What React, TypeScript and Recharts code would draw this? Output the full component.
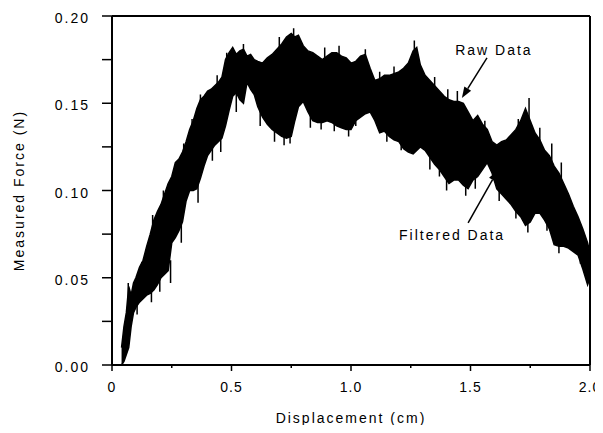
import {
  ComposedChart,
  Area,
  Line,
  XAxis,
  YAxis,
  ReferenceLine,
  ReferenceDot,
  Label,
} from "recharts";

// displacement (cm) with the lower / upper edge of the raw force trace (N)
const displacement = [
  0.04, 0.05, 0.06, 0.07, 0.08, 0.09, 0.1, 0.115, 0.13, 0.145, 0.16, 0.175, 0.19, 0.205, 0.22,
  0.235, 0.25, 0.265, 0.28, 0.295, 0.31, 0.325, 0.34, 0.355, 0.37, 0.385, 0.4, 0.415, 0.43,
  0.445, 0.46, 0.475, 0.49, 0.505, 0.52, 0.535, 0.55, 0.565, 0.58, 0.595, 0.61, 0.63, 0.65,
  0.67, 0.69, 0.71, 0.73, 0.75, 0.765, 0.78, 0.8, 0.82, 0.84, 0.86, 0.88, 0.9, 0.92, 0.94,
  0.96, 0.98, 1.0, 1.02, 1.04, 1.06, 1.08, 1.1, 1.12, 1.14, 1.16, 1.18, 1.2, 1.22, 1.24, 1.26,
  1.275, 1.29, 1.31, 1.33, 1.35, 1.37, 1.39, 1.41, 1.43, 1.45, 1.47, 1.49, 1.51, 1.53, 1.55,
  1.57, 1.59, 1.61, 1.63, 1.65, 1.67, 1.69, 1.71, 1.73, 1.75, 1.77, 1.79, 1.81, 1.83, 1.85,
  1.87, 1.89, 1.91, 1.93, 1.95, 1.97, 1.99, 2.0,
];
const forceLow = [
  0.0, 0.002, 0.006, 0.01, 0.022, 0.03, 0.033, 0.036, 0.038, 0.04, 0.041, 0.043, 0.046, 0.05,
  0.052, 0.054, 0.07, 0.073, 0.077, 0.082, 0.094, 0.1, 0.1, 0.101, 0.107, 0.114, 0.12, 0.123,
  0.126, 0.128, 0.13, 0.137, 0.146, 0.154, 0.156, 0.152, 0.15, 0.162, 0.158, 0.155, 0.148,
  0.142, 0.138, 0.135, 0.133, 0.131, 0.13, 0.131, 0.14, 0.148, 0.151, 0.145, 0.14, 0.139,
  0.139, 0.14, 0.139, 0.137, 0.136, 0.135, 0.135, 0.14, 0.142, 0.144, 0.145, 0.14, 0.133,
  0.134, 0.131, 0.129, 0.128, 0.124, 0.122, 0.121, 0.123, 0.125, 0.123, 0.119, 0.115, 0.112,
  0.108, 0.104, 0.106, 0.106, 0.103, 0.101, 0.106, 0.108, 0.112, 0.116, 0.11, 0.101, 0.098,
  0.095, 0.092, 0.088, 0.085, 0.08, 0.082, 0.087, 0.087, 0.083, 0.078, 0.069, 0.068, 0.068,
  0.067, 0.065, 0.063, 0.055, 0.046, 0.05,
];
const forceHigh = [
  0.01, 0.022, 0.03, 0.045, 0.04, 0.047, 0.05, 0.056, 0.06, 0.068, 0.075, 0.083, 0.088, 0.092,
  0.098, 0.104, 0.108, 0.116, 0.118, 0.122, 0.128, 0.135, 0.14, 0.147, 0.152, 0.154, 0.157,
  0.158, 0.16, 0.162, 0.165, 0.175, 0.179, 0.182, 0.178, 0.18, 0.181, 0.177, 0.178, 0.175,
  0.174, 0.173, 0.176, 0.178, 0.181, 0.184, 0.188, 0.19, 0.188, 0.189, 0.183, 0.18, 0.179,
  0.177, 0.175, 0.177, 0.179, 0.179, 0.177, 0.176, 0.173, 0.174, 0.177, 0.178, 0.17, 0.163,
  0.164, 0.166, 0.166, 0.167, 0.168, 0.17, 0.173, 0.18, 0.182, 0.172, 0.166, 0.163, 0.16,
  0.157, 0.154, 0.152, 0.151, 0.151, 0.15, 0.145, 0.14, 0.143, 0.138, 0.135, 0.128, 0.126,
  0.128, 0.129, 0.132, 0.135, 0.14, 0.147, 0.14, 0.133, 0.129, 0.123, 0.12, 0.114, 0.11,
  0.104, 0.098, 0.091, 0.085, 0.078, 0.07, 0.064,
];

// single noise spikes sticking out of the band: x, start inside band, tip
const spikeX = [
  0.068, 0.105, 0.125, 0.165, 0.17, 0.2, 0.215, 0.245, 0.29, 0.3, 0.335, 0.36, 0.37, 0.42, 0.44,
  0.455, 0.48, 0.52, 0.55, 0.62, 0.68, 0.7, 0.72, 0.745, 0.76, 0.83, 0.875, 0.89, 0.93, 0.95,
  0.99, 1.02, 1.06, 1.12, 1.15, 1.18, 1.21, 1.265, 1.33, 1.35, 1.37, 1.4, 1.405, 1.445, 1.48,
  1.52, 1.56, 1.62, 1.69, 1.7, 1.74, 1.745, 1.79, 1.82, 1.84, 1.87, 1.88, 1.96,
];
const spikeFrom = [
  0.03, 0.04, 0.045, 0.045, 0.07, 0.055, 0.085, 0.06, 0.09, 0.11, 0.125, 0.11, 0.14, 0.13, 0.15,
  0.135, 0.16, 0.16, 0.17, 0.15, 0.145, 0.17, 0.14, 0.14, 0.175, 0.15, 0.145, 0.165, 0.145, 0.17,
  0.14, 0.145, 0.17, 0.155, 0.14, 0.16, 0.135, 0.17, 0.125, 0.15, 0.12, 0.115, 0.145, 0.145, 0.11,
  0.115, 0.125, 0.105, 0.095, 0.125, 0.09, 0.135, 0.12, 0.09, 0.115, 0.075, 0.1, 0.068,
];
const spikeTo = [
  0.047, 0.029, 0.059, 0.036, 0.086, 0.042, 0.1, 0.047, 0.07, 0.127, 0.141, 0.093, 0.155, 0.117,
  0.166, 0.122, 0.179, 0.145, 0.184, 0.137, 0.128, 0.188, 0.126, 0.127, 0.193, 0.136, 0.135,
  0.182, 0.134, 0.183, 0.131, 0.137, 0.181, 0.168, 0.128, 0.171, 0.123, 0.186, 0.112, 0.165,
  0.108, 0.1, 0.158, 0.157, 0.097, 0.101, 0.14, 0.094, 0.084, 0.141, 0.076, 0.153, 0.136, 0.077,
  0.127, 0.064, 0.116, 0.058,
];

const xTicks = [0, 0.25, 0.5, 0.75, 1.0, 1.25, 1.5, 1.75, 2.0];
const xLabels = ["0", "0.5", "1.0", "1.5", "2.0"];
const yTicks = [0, 0.025, 0.05, 0.075, 0.1, 0.125, 0.15, 0.175, 0.2];
const yLabels = ["0.00", "0.05", "0.10", "0.15", "0.20"];

// annotation arrows: [x, y] from text to tip
const rawArrow = [[1.569, 0.176], [1.464, 0.153]];
const filteredArrow = [[1.49, 0.0814], [1.615, 0.1117]];
const rawLabelAt = [1.598, 0.1805];
const filteredLabelAt = [1.423, 0.0745];

const font = "'Liberation Sans', Arial, sans-serif";

const data = displacement.map((x, i) => ({ x, band: [forceLow[i], forceHigh[i]] }));
const spikes = spikeX.flatMap((x, i) => [
  { x, s: spikeFrom[i] },
  { x, s: spikeTo[i] },
  { x, s: null },
]);

function XTick({ x, y, payload }: any) {
  const label = xLabels.find((l) => Math.abs(parseFloat(l) - payload.value) < 1e-6);
  return (
    <g>
      <line x1={x} x2={x} y1={y} y2={y + (label ? 6 : 3)} stroke="#000" strokeWidth={1.5} />
      {label && (
        <text x={x} y={y + 27} textAnchor="middle" fontSize={14} fontFamily={font} letterSpacing={1} fill="#000">
          {label}
        </text>
      )}
    </g>
  );
}

function YTick({ x, y, payload }: any) {
  const label = yLabels.find((l) => Math.abs(parseFloat(l) - payload.value) < 1e-6);
  return (
    <g>
      <line x1={x - 10} x2={x} y1={y} y2={y} stroke="#000" strokeWidth={1.5} />
      {label && (
        <text x={x - 22} y={y + 7} textAnchor="end" fontSize={14} fontFamily={font} letterSpacing={2} fill="#000">
          {label}
        </text>
      )}
    </g>
  );
}

function Arrow({ x1, y1, x2, y2 }: any) {
  const a = Math.atan2(y2 - y1, x2 - x1);
  const len = 11;
  const w = 4;
  const bx = x2 - len * Math.cos(a);
  const by = y2 - len * Math.sin(a);
  const px = -Math.sin(a) * w;
  const py = Math.cos(a) * w;
  return (
    <g>
      <line x1={x1} y1={y1} x2={bx} y2={by} stroke="#000" strokeWidth={1.5} />
      <polygon points={`${x2},${y2} ${bx + px},${by + py} ${bx - px},${by - py}`} fill="#000" />
    </g>
  );
}

function note(text: string) {
  return ({ cx, cy }: any) => (
    <text x={cx} y={cy + 5} textAnchor="middle" fontSize={14} fontFamily={font} letterSpacing={2} fill="#000">
      {text}
    </text>
  );
}

export default function App() {
  return (
    <div style={{ margin: -8 }}>
      <ComposedChart
        width={603}
        height={433}
        data={data}
        margin={{ top: 16, right: 13, bottom: 8, left: 0 }}
        style={{ background: "#fff" }}
      >
        <XAxis
          xAxisId="b"
          dataKey="x"
          type="number"
          domain={[0, 2]}
          ticks={xTicks}
          tick={<XTick />}
          tickLine={false}
          tickSize={0}
          tickMargin={0}
          height={60}
          axisLine={{ stroke: "#000", strokeWidth: 2 }}
        >
          <Label
            value="Displacement (cm)"
            position="insideBottom"
            offset={2}
            style={{ fontSize: 14, fontFamily: font, letterSpacing: 2, fill: "#000" }}
          />
        </XAxis>
        <YAxis
          yAxisId="l"
          type="number"
          domain={[0, 0.2]}
          ticks={yTicks}
          tick={<YTick />}
          tickLine={false}
          tickSize={0}
          tickMargin={0}
          width={112}
          axisLine={{ stroke: "#000", strokeWidth: 2 }}
        >
          <Label
            value="Measured Force (N)"
            angle={-90}
            position="insideLeft"
            offset={19}
            style={{ fontSize: 14, fontFamily: font, letterSpacing: 2, fill: "#000", textAnchor: "middle" }}
          />
        </YAxis>
        <Area
          xAxisId="b"
          yAxisId="l"
          dataKey="band"
          type="linear"
          stroke="#000"
          strokeWidth={1.5}
          fill="#000"
          fillOpacity={1}
          isAnimationActive={false}
        />
        <Line
          xAxisId="b"
          yAxisId="l"
          data={spikes}
          dataKey="s"
          type="linear"
          stroke="#000"
          strokeWidth={1.5}
          dot={false}
          connectNulls={false}
          isAnimationActive={false}
        />
        <ReferenceLine xAxisId="b" yAxisId="l" y={0.2} stroke="#000" strokeWidth={2} />
        <ReferenceLine xAxisId="b" yAxisId="l" x={2} stroke="#000" strokeWidth={2} />
        <ReferenceLine
          xAxisId="b"
          yAxisId="l"
          segment={[
            { x: rawArrow[0][0], y: rawArrow[0][1] },
            { x: rawArrow[1][0], y: rawArrow[1][1] },
          ]}
          shape={(p: any) => <Arrow {...p} />}
        />
        <ReferenceLine
          xAxisId="b"
          yAxisId="l"
          segment={[
            { x: filteredArrow[0][0], y: filteredArrow[0][1] },
            { x: filteredArrow[1][0], y: filteredArrow[1][1] },
          ]}
          shape={(p: any) => <Arrow {...p} />}
        />
        <ReferenceDot xAxisId="b" yAxisId="l" x={rawLabelAt[0]} y={rawLabelAt[1]} shape={note("Raw Data")} />
        <ReferenceDot
          xAxisId="b"
          yAxisId="l"
          x={filteredLabelAt[0]}
          y={filteredLabelAt[1]}
          shape={note("Filtered Data")}
        />
      </ComposedChart>
    </div>
  );
}
